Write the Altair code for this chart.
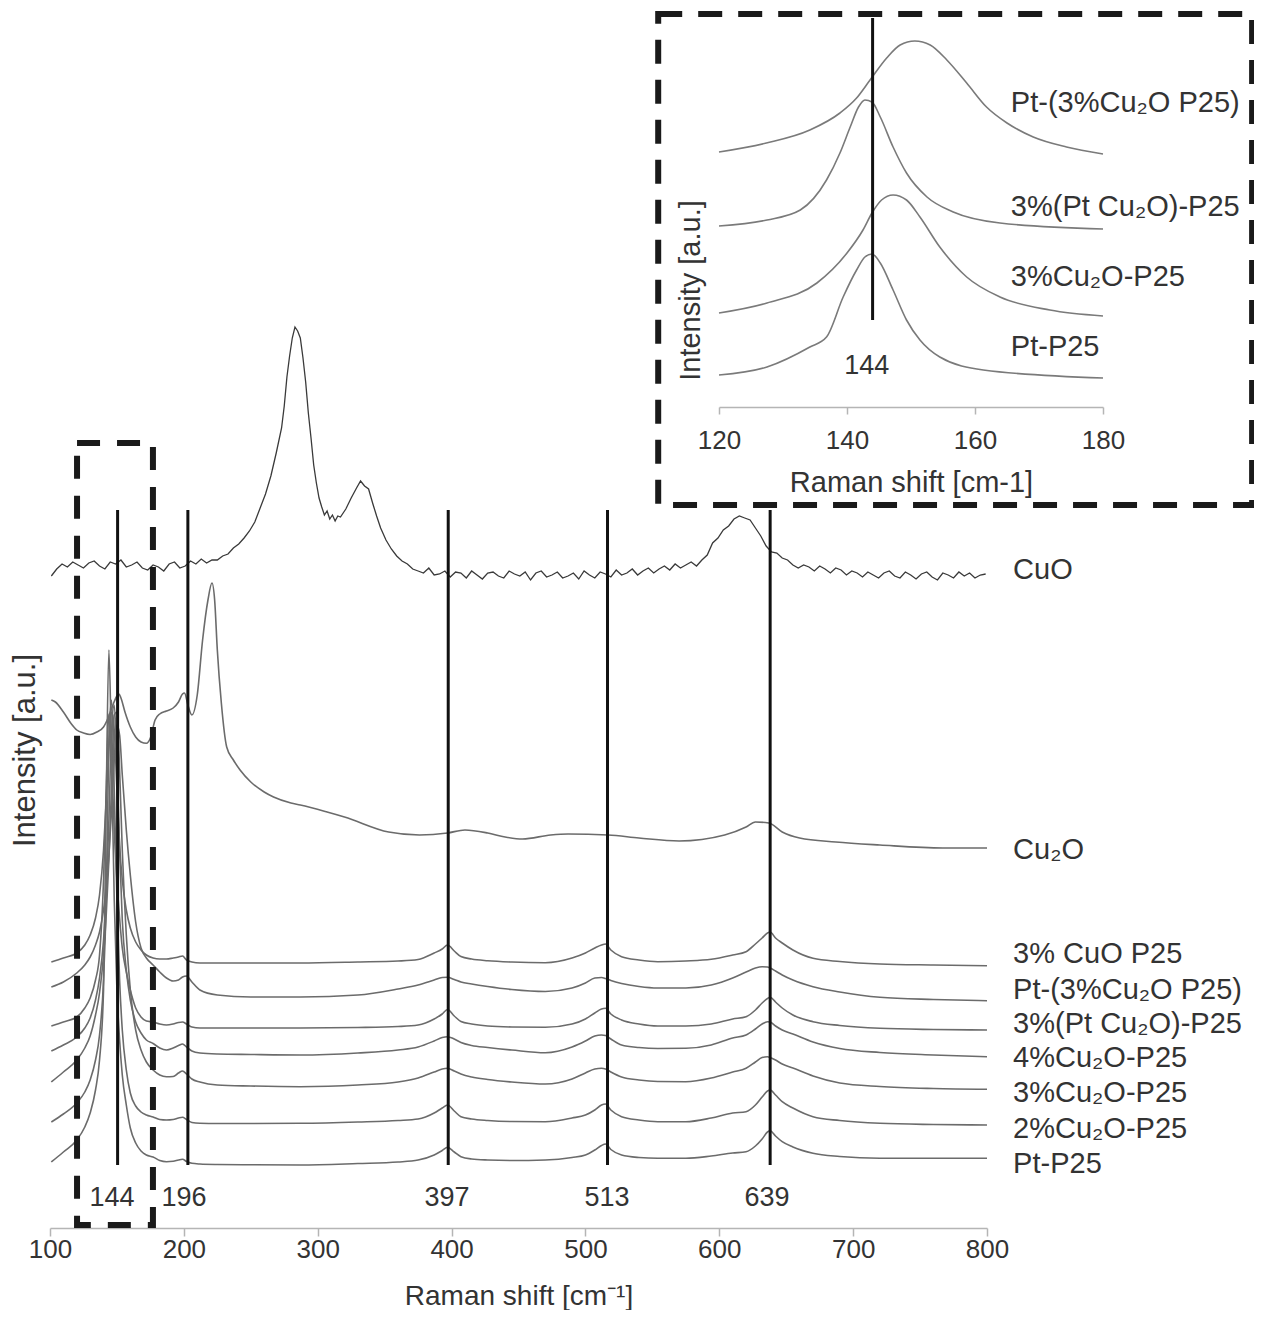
import altair as alt
import pandas as pd

FONT = "Liberation Sans"
TXT = "#333333"
LINE = "#6b6b6b"

# ---------------- main panel data (Raman shift in cm-1, intensity in a.u.) -------------
stack_x = [101, 110, 120, 126, 130, 134, 137, 140, 142, 144, 146, 148, 150, 152, 154, 157, 160,
           164, 168, 172, 177, 182, 187, 192, 196, 199, 202, 206, 212, 225, 250, 287, 330, 360,
           375, 387, 393, 397, 402, 407, 415, 427, 445, 470, 490, 500, 507, 512, 515, 519, 527,
           540, 554, 575, 594, 610, 620, 627, 632, 636, 638, 642, 647, 655, 670, 690, 720, 760, 800]

stack_names = ["3% CuO P25", "Pt-(3%Cu₂O P25)", "3%(Pt Cu₂O)-P25", "4%Cu₂O-P25",
               "3%Cu₂O-P25", "2%Cu₂O-P25", "Pt-P25"]

s_3cuo = [266, 270, 275, 283, 293, 310, 333, 378, 428, 478, 516, 498, 438, 383, 348, 318, 300, 286,
          278, 273, 270, 269, 269, 270, 271, 272, 268, 266, 265, 265, 265, 265, 266, 267, 268.5, 275,
          279, 283, 277, 271.5, 269, 267.3, 266, 265.3, 270, 275, 280, 283, 284, 278, 271.3, 268,
          266.3, 267, 268.7, 273, 276.3, 284, 290, 295, 296, 290, 285, 278, 269.7, 266.5, 264, 263, 262.3]
s_pt3cu2o = [241, 246, 255, 263, 271, 283, 296, 318, 340, 373, 418, 468, 503, 493, 453, 398, 353, 306,
             280, 270, 263, 256, 250, 247, 248, 251, 252, 246, 238, 233, 231, 231, 233, 239, 243, 248,
             250.5, 250.7, 248.5, 246, 244, 241.5, 238.5, 236.5, 240, 245, 250, 250.5, 249.5, 247.5,
             244.5, 241.5, 240, 240, 243, 250, 256, 260, 261.3, 261, 260, 257, 253, 248, 241.3, 236,
             230.7, 228.5, 227.3]
s_3ptcu2o = [202, 206, 211, 220, 230, 248, 273, 348, 438, 514, 468, 398, 348, 310, 280, 256, 238, 220,
             211, 207, 206, 204, 203, 204, 205.5, 206, 204, 201, 200, 200, 200, 200, 200.5, 201.5, 203,
             209, 214, 218.5, 212, 206.5, 204, 202, 201, 200.7, 204, 209, 215, 219, 219.7, 214, 208,
             204, 202, 202, 204, 209, 211.3, 218, 225, 229.5, 230.7, 226, 220, 213, 206.3, 202.5,
             199.7, 198.5, 198]
s_4cu2o = [177, 183, 191, 200, 210, 228, 250, 288, 333, 408, 498, 523, 468, 378, 308, 258, 228, 206,
           195, 188, 184.5, 180, 178, 180, 182.5, 184, 181, 177, 175, 174, 173.5, 173, 175, 178, 181,
           187, 190.5, 191.3, 189, 185.5, 182.5, 180.5, 178, 175.3, 181, 187, 192, 193, 192.5, 189,
           183, 180.5, 179.5, 179.7, 183, 190, 193, 199, 204, 206.3, 206, 202, 198, 194, 186, 179.5,
           175.5, 173, 171.3]
s_3cu2o = [146, 156, 168, 180, 192, 213, 235, 273, 313, 368, 443, 513, 516, 458, 378, 293, 238, 198,
           178, 166, 158, 153, 151.3, 151.5, 155, 157, 154, 149, 146, 143, 142, 141.3, 143, 146, 150,
           156, 159, 159.7, 157, 154, 151, 148.5, 146, 144, 149, 155, 159, 159.7, 159, 156, 151, 148,
           146.5, 146.3, 150, 156, 159.7, 166, 170.5, 171.3, 170.5, 168, 164, 160, 152, 145, 141.5,
           139.5, 138.7]
s_2cu2o = [106, 114, 125, 136, 148, 168, 193, 248, 328, 488, 528, 438, 328, 248, 198, 158, 135, 122,
           116, 113, 111, 108.5, 108, 108.5, 110, 110.7, 108.5, 105.5, 104.7, 104.5, 104.5, 104.7, 106,
           107.5, 109, 115, 120, 123, 117, 111.3, 109, 107.5, 106.5, 106.3, 110, 113, 118, 123, 124,
           118, 111.3, 108, 106.3, 106.3, 110, 115, 116.3, 123, 131, 137, 138, 133, 126.3, 120, 111.3,
           107.5, 104.7, 103.5, 103]
s_ptp25 = [66, 76, 88, 101, 115, 138, 168, 238, 428, 578, 468, 328, 238, 188, 153, 123, 100, 85, 77,
           73, 71, 67.5, 66.3, 66.7, 68, 68.7, 66.5, 64.7, 64, 63.5, 63.2, 63, 64.5, 66, 68, 73, 77.5,
           80.7, 76, 71.3, 69, 68, 67.5, 68, 70.5, 73, 78, 82.5, 84, 78.5, 73, 70.5, 69.7, 69.7, 72,
           75, 76.3, 82, 89, 96, 97.3, 92, 86.3, 81, 74.7, 71.5, 69.7, 69.7, 69.7]
stack_values = [s_3cuo, s_pt3cu2o, s_3ptcu2o, s_4cu2o, s_3cu2o, s_2cu2o, s_ptp25]

cu2o_x = [101, 104, 110, 116, 120, 125, 130, 135, 140, 144, 147, 150, 151.5, 153, 156, 160, 164, 168,
          172, 175, 178.5, 182, 187, 192, 196, 199, 200.5, 203, 206, 210, 214, 218, 221, 223, 225,
          228, 232, 237, 242, 250, 260, 267, 280, 287, 307, 320, 353, 376, 397, 410, 427, 440, 453,
          474, 487, 517, 540, 570, 604, 620, 627, 637, 647, 660, 687, 720, 767, 800]
cu2o_y = [528, 526, 516, 504, 498, 495, 493.5, 496, 501, 512, 523, 532, 534, 530, 516, 501, 491, 486,
          484.7, 490, 508, 514, 517, 520, 526, 534, 535, 523, 513, 533, 588, 628, 645, 628, 578, 525,
          481, 468, 458, 446, 436, 431, 425, 423, 416, 411, 396, 393, 395, 398, 395, 391, 389, 393,
          394, 393, 390, 387, 393, 401, 406, 405, 396, 390, 386, 383, 380, 380]

cuo_x = [101, 105, 109, 113, 117, 121, 125, 129, 133, 137, 141, 145, 149, 153, 157, 161, 165, 169,
         173, 177, 181, 185, 189, 193, 197, 201, 205, 209, 213, 217, 221, 225, 229, 233, 237, 241,
         245, 249, 253, 257, 261, 265, 269, 273, 275, 277, 279, 281, 283, 285, 287, 289, 291, 293,
         295, 297, 299, 301, 303, 305, 307, 309, 311, 313, 315, 317, 321, 325, 329, 332, 335, 338,
         341, 344, 347, 351, 355, 359, 363, 367, 371, 375, 379, 383, 387, 391, 395, 399, 403, 407,
         411, 415, 419, 423, 427, 431, 435, 439, 443, 447, 451, 455, 459, 463, 467, 471, 475, 479,
         483, 487, 491, 495, 499, 503, 507, 511, 515, 519, 523, 527, 531, 535, 539, 543, 547, 551,
         555, 559, 563, 567, 571, 575, 579, 583, 587, 591, 595, 599, 603, 607, 611, 615, 619, 623,
         627, 631, 635, 639, 643, 647, 651, 655, 659, 663, 667, 671, 675, 679, 683, 687, 691, 695,
         699, 703, 707, 711, 715, 719, 723, 727, 731, 735, 739, 743, 747, 751, 755, 759, 763, 767,
         771, 775, 779, 783, 787, 791, 795, 799]
cuo_y = [652, 659, 664, 661, 666, 663, 660, 665, 667, 662, 659, 666, 664, 668, 661, 663, 666, 660,
         658, 663, 661, 657, 664, 666, 660, 662, 667, 664, 669, 665, 668,
         668, 672, 674, 680, 684, 690, 697, 706, 720, 734, 752, 775, 800, 822, 851, 872, 890, 901,
         897, 890, 870, 846, 815, 790, 763, 745, 730, 721, 713, 717, 709, 713, 707, 712, 711, 719,
         730, 740, 747, 742, 739, 725, 712, 700, 688, 679, 672, 667, 664,
         659, 657, 655, 660, 653, 654, 657, 651, 656, 655, 650, 657, 653, 649, 655, 656, 652, 650,
         657, 654, 652, 656, 648, 655, 657, 651, 653, 656, 650, 652, 655, 649, 657, 653, 650, 656,
         654, 651, 658, 653, 655, 659, 653, 657, 660, 655, 659, 662, 658, 664, 660, 663, 666, 662,
         668, 673, 685, 690, 698, 702, 709, 712, 710, 708, 700, 692, 682, 676, 675, 670, 668, 663,
         660, 663, 661, 657, 662, 659, 655, 660, 658, 653, 657, 655, 651, 656, 653, 650, 655, 657,
         652, 650, 656, 653, 649, 654, 656, 651, 648, 655, 653, 650, 656, 652, 655, 650, 653, 654]

# reference lines and labels (main panel)
peak_line_x = [150.5, 203, 397.5, 516.5, 638]
peak_line_low = 63
peak_line_high = 718
peak_labels = ["144", "196", "397", "513", "639"]
peak_label_x = [146.3, 200.1, 396.6, 516.1, 635.6]
peak_label_y = 30

main_names = ["CuO", "Cu₂O"] + stack_names
main_name_y = [658, 378, 274, 238, 204, 170, 135, 99, 64]
main_name_x = 819.5

box_main = {"x1": 120.2, "x2": 176.9, "y1": 3, "y2": 785}

# ---------------- inset data -------------
ins_names = ["Pt-(3%Cu₂O P25)", "3%(Pt Cu₂O)-P25", "3%Cu₂O-P25", "Pt-P25"]
insA_x = [120, 127.4, 134.2, 138.9, 141.5, 143.6, 146.2, 148.3, 150.6, 153, 155.6, 158.7, 161.8, 165, 169.1, 174.3, 180]
insA_y = [253, 262, 275, 292, 307, 325, 347, 360, 364, 360, 345, 322, 298, 282, 268, 258, 251]
insB_x = [120, 127.5, 132.7, 136.8, 138.9, 140.5, 141.8, 142.8, 143.9, 145.2, 147.2, 149.3, 152.5, 156.6, 163.9, 180]
insB_y = [179, 185, 195, 225, 252, 278, 298, 305, 303, 288, 258, 232, 208, 193, 182, 176]
insC_x = [120, 127.5, 135.3, 140, 142.5, 143.9, 145.4, 147.2, 149.3, 151.4, 154.5, 158.7, 163.9, 171.7, 180]
insC_y = [92, 102, 122, 152, 175, 192, 205, 210, 205, 188, 158, 128, 108, 95, 89]
insD_x = [120, 127.5, 134.2, 136.8, 139.4, 141.5, 142.8, 143.9, 145.2, 147.2, 149.3, 151.4, 154.5, 161.3, 180]
insD_y = [30, 38, 58, 68, 108, 135, 148, 151, 142, 115, 85, 65, 48, 35, 27]
ins_curves = [(insA_x, insA_y), (insB_x, insB_y), (insC_x, insC_y), (insD_x, insD_y)]
ins_name_y = [302, 198, 128, 58]
ins_name_x = 165.6
ins_line_x = 144
ins_line_low, ins_line_high = 85, 387
ins_peak_label = "144"
ins_peak_label_pos = (143.1, 39)
box_inset = {"x1": 110.5, "x2": 203.3, "y1": -100, "y2": 391}

# ---------------- tables -------------
df_cuo = pd.DataFrame({"x": cuo_x, "y": cuo_y})
df_cu2o = pd.DataFrame({"x": cu2o_x, "y": cu2o_y})
rows = []
for name, vals in zip(stack_names, stack_values):
    for xv, yv in zip(stack_x, vals):
        rows.append({"x": xv, "y": yv, "s": name})
df_stack = pd.DataFrame(rows)
df_rules = pd.DataFrame({"x": peak_line_x, "y": [peak_line_low] * 5, "y2": [peak_line_high] * 5})
df_plab = pd.DataFrame({"x": peak_label_x, "y": [peak_label_y] * 5, "t": peak_labels})
df_names = pd.DataFrame({"x": [main_name_x] * len(main_names), "y": main_name_y, "t": main_names})
df_box = pd.DataFrame([box_main])

irows = []
for name, (xs, ys) in zip(ins_names, ins_curves):
    for xv, yv in zip(xs, ys):
        irows.append({"x": xv, "y": yv, "s": name})
df_ins = pd.DataFrame(irows)
df_irule = pd.DataFrame({"x": [ins_line_x], "y": [ins_line_low], "y2": [ins_line_high]})
df_inames = pd.DataFrame({"x": [ins_name_x] * 4, "y": ins_name_y, "t": ins_names})
df_ipk = pd.DataFrame({"x": [ins_peak_label_pos[0]], "y": [ins_peak_label_pos[1]], "t": [ins_peak_label]})
df_ibox = pd.DataFrame([box_inset])

# ---------------- scales & axes -------------
mxs = alt.Scale(domain=[100, 800], nice=False, zero=False)
mys = alt.Scale(domain=[0, 1220], nice=False, zero=False)
ixs = alt.Scale(domain=[120, 180], range=[669, 1053], nice=False, zero=False)
iys = alt.Scale(domain=[0, 390], range=[397, 7], nice=False, zero=False)

AX_GREY = "#b5b5b5"
mx_axis = alt.Axis(values=[100, 200, 300, 400, 500, 600, 700, 800], format="d", grid=False,
                   title="Raman shift [cm⁻¹]", orient="bottom", labelFlush=False,
                   domainColor=AX_GREY, domainWidth=1.5, tickColor=AX_GREY, tickWidth=1.5, tickSize=8,
                   labelFont=FONT, labelFontSize=26, labelColor=TXT, labelPadding=0,
                   titleFont=FONT, titleFontSize=28, titleFontWeight="normal", titleColor=TXT,
                   titleY=68, titleBaseline="middle")
my_axis = alt.Axis(title="Intensity [a.u.]", orient="left", labels=False, ticks=False, domain=False,
                   grid=False, minExtent=42, maxExtent=42,
                   titleFont=FONT, titleFontSize=31, titleFontWeight="normal", titleColor=TXT,
                   titleX=-25, titleY=742, titleAngle=270, titleBaseline="middle")
ix_axis = alt.Axis(values=[120, 140, 160, 180], format="d", grid=False, title="Raman shift [cm-1]",
                   orient="bottom", offset=-821, labelFlush=False,
                   domainColor=AX_GREY, domainWidth=1.5, tickColor=AX_GREY, tickWidth=1.5, tickSize=7,
                   labelFont=FONT, labelFontSize=26, labelColor=TXT, labelPadding=13,
                   titleFont=FONT, titleFontSize=29, titleFontWeight="normal", titleColor=TXT,
                   titleY=75, titleBaseline="middle")
iy_axis = alt.Axis(title="Intensity [a.u.]", orient="left", labels=False, ticks=False, domain=False,
                   grid=False, titleFont=FONT, titleFontSize=29, titleFontWeight="normal",
                   titleColor=TXT, titleX=640, titleY=282, titleAngle=270, titleBaseline="middle")


def MX(f="x"):
    return alt.X(f"{f}:Q", scale=mxs, axis=mx_axis)


def MY(f="y"):
    return alt.Y(f"{f}:Q", scale=mys, axis=my_axis)


def IX(f="x"):
    return alt.X(f"{f}:Q", scale=ixs, axis=ix_axis)


def IY(f="y"):
    return alt.Y(f"{f}:Q", scale=iys, axis=iy_axis)


# ---------------- main layers -------------
cuo = alt.Chart(df_cuo).mark_line(color="#3a3a3a", strokeWidth=1.3).encode(x=MX(), y=MY(), order="x:Q")
cu2o = alt.Chart(df_cu2o).mark_line(color=LINE, strokeWidth=1.6, interpolate="monotone").encode(
    x=MX(), y=MY(), order="x:Q")
stack = alt.Chart(df_stack).mark_line(color=LINE, strokeWidth=1.6, interpolate="monotone").encode(
    x=MX(), y=MY(), detail="s:N", order="x:Q")
rules = alt.Chart(df_rules).mark_rule(color="#111111", strokeWidth=3).encode(x=MX(), y=MY(), y2="y2:Q")
box = alt.Chart(df_box).mark_rect(filled=False, color="#1a1a1a", strokeWidth=6, strokeDash=[23, 17]).encode(
    x=MX("x1"), x2="x2:Q", y=MY("y1"), y2="y2:Q")
plab = alt.Chart(df_plab).mark_text(font=FONT, fontSize=27, color=TXT, align="center", baseline="middle").encode(
    x=MX(), y=MY(), text="t:N")
names = alt.Chart(df_names).mark_text(font=FONT, fontSize=29, color=TXT, align="left", baseline="middle").encode(
    x=MX(), y=MY(), text="t:N")

main = alt.layer(cuo, cu2o, stack, rules, box, plab, names)

# ---------------- inset layers -------------
ins_lines = alt.Chart(df_ins).mark_line(color="#7a7a7a", strokeWidth=1.6, interpolate="monotone").encode(
    x=IX(), y=IY(), detail="s:N", order="x:Q")
ins_rule = alt.Chart(df_irule).mark_rule(color="#111111", strokeWidth=3).encode(x=IX(), y=IY(), y2="y2:Q")
ins_box = alt.Chart(df_ibox).mark_rect(filled=False, color="#1a1a1a", strokeWidth=6, strokeDash=[24, 16]).encode(
    x=IX("x1"), x2="x2:Q", y=IY("y1"), y2="y2:Q")
ins_names_t = alt.Chart(df_inames).mark_text(font=FONT, fontSize=29, color=TXT, align="left", baseline="middle").encode(
    x=IX(), y=IY(), text="t:N")
ins_pk = alt.Chart(df_ipk).mark_text(font=FONT, fontSize=27, color=TXT, align="center", baseline="middle").encode(
    x=IX(), y=IY(), text="t:N")

inset = alt.layer(ins_lines, ins_rule, ins_box, ins_names_t, ins_pk)

chart = alt.layer(main, inset).resolve_scale(x="independent", y="independent").properties(
    width=937, height=1220,
    autosize=alt.AutoSizeParams(type="none"),
    padding={"left": 42, "top": 0, "right": 267, "bottom": 82},
).configure(font=FONT).configure_view(stroke="transparent", strokeWidth=0)

chart.save("out.html", embed_options={"renderer": "svg", "actions": False})
